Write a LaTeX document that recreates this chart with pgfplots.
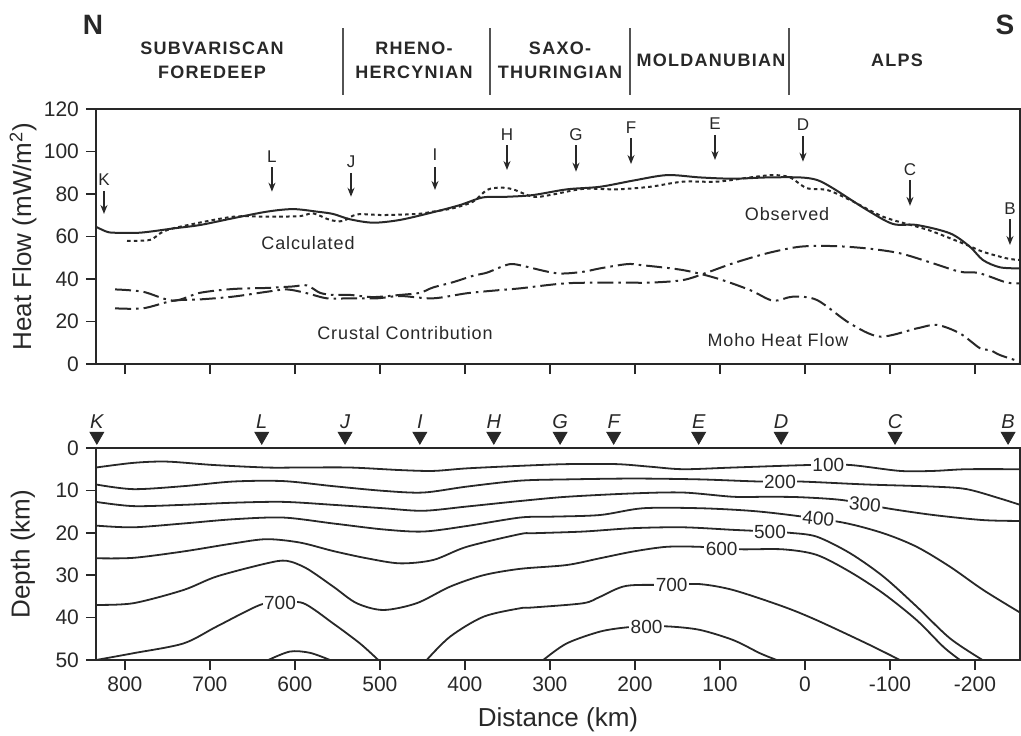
\documentclass[border=0pt]{standalone}
\usepackage{fontspec}
\setmainfont{Liberation Sans}
\usepackage{pgfplots}
\pgfplotsset{compat=1.18}
\usetikzlibrary{arrows.meta}
\definecolor{ink}{RGB}{40,40,40}
\pgfplotsset{
  myaxis/.style={
    scale only axis, width=462pt,
    x dir=reverse, xmin=-253, xmax=834,
    xtick={-200,-100,...,800},
    tick align=outside, major tick length=5pt,
    ytick pos=left, yticklabel pos=left,
    xtick pos=left, xticklabel pos=left,
    axis line style={ink, line width=1pt},
    tick style={ink, line width=0.8pt},
    tick label style={font=\fontsize{10.5}{12}\selectfont, text=ink},
    /pgf/number format/assume math mode=true,
    every axis y label/.style={at={(axis description cs:-0.079,0.5)}, rotate=90, anchor=center,
      font=\fontsize{13}{15}\selectfont, text=ink},
    clip=false,
  },
  curve/.style={ink, line width=1pt, smooth, tension=0.5, mark=none},
  iso/.style={ink, line width=0.9pt, smooth, tension=0.5, mark=none},
  dd/.style={dash pattern=on 8pt off 2.5pt on 1.3pt off 2.5pt},
}
\tikzset{
  lab/.style={font=\fontsize{8.5}{10}\selectfont, text=ink, inner sep=0pt},
  txt/.style={font=\fontsize{9}{11}\selectfont\addfontfeature{LetterSpace=5}, text=ink, inner sep=0pt},
  clab/.style={font=\fontsize{9.5}{11}\selectfont, text=ink, fill=white, inner sep=0.8pt},
  arr/.style={ink, line width=0.7pt, -{Stealth[length=4.5pt,width=3.5pt]}},
  reg/.style={font=\fontsize{9}{12}\selectfont\bfseries\addfontfeature{LetterSpace=7}, text=ink, align=center, inner sep=0pt},
  stn/.style={font=\fontsize{10}{12}\selectfont\itshape, text=ink, inner sep=0pt},
}
\begin{document}
\begin{tikzpicture}
\path[use as bounding box] (-48pt,-185.5pt) rectangle (462.5pt,182pt);

% ---------------- top panel: heat flow ----------------
\begin{axis}[myaxis, at={(0pt,0pt)}, anchor=south west, height=127.5pt,
  ymin=0, ymax=120, ytick={0,20,...,120},
  xticklabels={},
  ylabel={Heat Flow (mW/m\textsuperscript{2})}]

% Calculated (solid)
\addplot[curve] coordinates {
(834,64.6) (823,62.5) (814,61.8) (782,61.8) (743,63.8) (711.7,65.4) (672.8,68.6)
(632.8,71.7) (602.3,72.9) (574,71.7) (555,70.6) (535.2,68.1) (508,66.5) (476.4,67.8)
(437.6,71.4) (405.8,74.8) (378.7,78.4) (350.5,78.7) (320,79.5) (280,82.2) (241.1,83.4)
(202.3,86.3) (162.3,88.9) (123.5,87.8) (84.6,87.2) (44.6,87.8) (5.8,87.8) (-14.2,86.6)
(-33,82.7) (-73,72.5) (-103.6,65.9) (-132,65.4) (-170.7,61.5) (-194,55.2) (-209.5,48.9)
(-229.5,45.5) (-253,45)};

% Observed (dotted)
\addplot[curve, dash pattern=on 1.8pt off 1.6pt] coordinates {
(797.5,58) (770.5,58.4) (755,62.3) (731.7,64.9) (672.8,69.3) (632.8,69.3) (594,69.6)
(578.7,70.9) (558.7,67.8) (543.4,67.3) (527,70.4) (496.4,70.1) (456.4,70.6) (437.6,71.7)
(414,73.3) (390.5,76.4) (374,81.9) (358.7,83) (343.4,82.2) (320,78.7) (300,79.5)
(261.1,82.4) (221.1,82.2) (182.3,83.4) (143.5,85.8) (103.5,85.8) (64.6,87.8) (37.6,88.9)
(17.6,87.8) (-2.4,82.7) (-26,81.9) (-53,77.2) (-92,69.3) (-132,64.6) (-150.6,62.3)
(-190.6,56) (-209.5,52.8) (-237.7,49.7) (-253,48.9)};

% Moho heat flow (dash-dot)
\addplot[curve, dd] coordinates {
(811.6,35.1) (778.7,34) (743,29.8) (711.7,33.5) (672.8,35.3) (632.8,35.8) (602.3,36.5)
(585.8,37) (570.5,33.5) (555,32.5) (535.2,32.5) (508,31.5) (476.4,32.5) (452.9,33.5)
(437.6,36) (414,38.5) (390.5,41.5) (374,43) (358.7,45.5) (347,47) (335.2,46.5)
(292.2,42.7) (261.1,43.4) (241.1,45) (209.4,47) (194,46.6) (143.5,44.2) (103.5,40.3)
(64.6,34.8) (37.6,29.8) (14,31.7) (-14.2,30.1) (-53,19.1) (-88.3,12.9) (-132,16.8)
(-155.4,18.4) (-182.4,14.4) (-206,7.4) (-217.7,6.6) (-229.5,4.2) (-253,1.1)};

% Crustal contribution (dash-dot)
\addplot[curve, dd] coordinates {
(811.6,26.2) (778.7,26.2) (743,29.8) (711.7,30.4) (672.8,31.7) (632.8,34) (609.3,35.1)
(585.8,33.3) (562.3,30.9) (535.2,30.9) (503.4,30.9) (476.4,32) (437.6,30.9) (397.6,33.3)
(358.7,34.8) (335.2,35.6) (280,38) (221.1,38.3) (182.3,38.3) (143.5,39.5) (115.3,43)
(84.6,47.4) (44.6,52.1) (5.8,55.2) (-33,55.5) (-73,54.4) (-111.8,52.1) (-150.6,47.4)
(-182.4,43.4) (-202.4,43) (-217.7,41.1) (-237.7,38.3) (-253,38)};

% station arrows
\draw[arr] (axis cs:824.6,81.5) -- (axis cs:824.6,70.6);  \node[lab] at (axis cs:824.6,86.6) {K};
\draw[arr] (axis cs:627,92.7) -- (axis cs:627,81.1);      \node[lab] at (axis cs:627,97.6) {L};
\draw[arr] (axis cs:534,90) -- (axis cs:534,78.7);        \node[lab] at (axis cs:534,95.2) {J};
\draw[arr] (axis cs:435.2,92.5) -- (axis cs:435.2,81.9);  \node[lab] at (axis cs:435.2,98.4) {I};
\draw[arr] (axis cs:350.5,103) -- (axis cs:350.5,91.3);   \node[lab] at (axis cs:350.5,107.8) {H};
\draw[arr] (axis cs:269.3,103) -- (axis cs:269.3,90.5);   \node[lab] at (axis cs:269.3,107.8) {G};
\draw[arr] (axis cs:204.6,106.2) -- (axis cs:204.6,94.1); \node[lab] at (axis cs:204.6,111.4) {F};
\draw[arr] (axis cs:105.8,107.8) -- (axis cs:105.8,96);   \node[lab] at (axis cs:105.8,113.3) {E};
\draw[arr] (axis cs:2.3,107.4) -- (axis cs:2.3,95.2);     \node[lab] at (axis cs:2.3,112.5) {D};
\draw[arr] (axis cs:-123.6,86.6) -- (axis cs:-123.6,74.4);\node[lab] at (axis cs:-123.6,91.3) {C};
\draw[arr] (axis cs:-241.2,68.1) -- (axis cs:-241.2,56);  \node[lab] at (axis cs:-241.2,73.3) {B};

\node[txt] at (axis cs:584.6,57) {Calculated};
\node[txt] at (axis cs:21,70.6) {Observed};
\node[txt] at (axis cs:470.5,14.7) {Crustal Contribution};
\node[txt] at (axis cs:31.7,11.3) {Moho Heat Flow};
\end{axis}

% ---------------- bottom panel: isotherms ----------------
\begin{axis}[myaxis, at={(0pt,-148pt)}, anchor=south west, height=106pt,
  y dir=reverse, ymin=0, ymax=50, ytick={0,10,...,50},
  xlabel={Distance (km)}, ylabel={Depth (km)},
  every axis x label/.style={at={(axis description cs:0.5,-0.283)}, anchor=center,
    font=\fontsize{13}{15}\selectfont, text=ink}]

% stations
\addplot[only marks, mark=triangle*, mark size=4pt,
  mark options={rotate=180, fill=ink, draw=ink}] coordinates {
(833,-2.8) (639,-2.8) (541,-2.8) (453,-2.8) (366,-2.8) (288,-2.8) (225,-2.8)
(125,-2.8) (28,-2.8) (-106,-2.8) (-239,-2.8)};
\node[stn] at (axis cs:833,-6.3) {K};
\node[stn] at (axis cs:639,-6.3) {L};
\node[stn] at (axis cs:541,-6.3) {J};
\node[stn] at (axis cs:453,-6.3) {I};
\node[stn] at (axis cs:366,-6.3) {H};
\node[stn] at (axis cs:288,-6.3) {G};
\node[stn] at (axis cs:225,-6.3) {F};
\node[stn] at (axis cs:125,-6.3) {E};
\node[stn] at (axis cs:28,-6.3) {D};
\node[stn] at (axis cs:-106,-6.3) {C};
\node[stn] at (axis cs:-239,-6.3) {B};

% 100
\addplot[iso] coordinates {
(834,4.6) (790.1,3.5) (750.8,3.2) (696,4) (633.2,4.6) (594,4.6) (535.2,4.6) (476.4,5.2)
(437.2,5.4) (397.9,4.8) (335.2,4.2) (280.4,3.8) (221.5,3.8) (182.3,4.4) (143.1,5)
(84.3,4.6) (-6,4.0) (-53,4.0) (-111.8,5.4) (-151.1,5.4) (-190.3,5) (-253,5)};
% 200
\addplot[iso] coordinates {
(834,8.6) (790.1,9.7) (731.3,9) (672.5,7.9) (613.7,7.8) (554.8,9) (496,10.1) (449,10.5)
(397.9,9.1) (335.2,7.7) (280.4,7.4) (201.9,7.2) (123.5,7.4) (52.9,7.9) (5.8,7.9)
(-72.6,8.6) (-151.1,9.1) (-190.3,9.7) (-229.5,11.9) (-253,13.4)};
% 300
\addplot[iso] coordinates {
(834,12.7) (790.1,13.7) (731.3,13.4) (672.5,12.9) (613.7,12.7) (554.8,13.4) (496,14.2)
(449,14.8) (397.9,13.8) (335.2,12.5) (280.4,11.5) (201.9,10.7) (143.1,10.5) (84.3,11.5)
(45,11.5) (5.8,11.6) (-45.2,12.3) (-96.2,14.2) (-151.1,15.8) (-209.9,17) (-253,17.2)};
% 400
\addplot[iso] coordinates {
(834,18.3) (790.1,18.7) (731.3,17.8) (672.5,16.8) (613.7,16.4) (554.8,17.8) (496,19.2)
(449,19.7) (397.9,18.4) (335.2,16.4) (300,16.2) (241.1,15.8) (190.3,14.2) (123.5,14.2)
(64.6,14.8) (17.6,15.8) (-45.2,17.6) (-92.2,20.1) (-131.5,23.3) (-170.7,28)
(-209.9,33.5) (-253,38.8)};
% 500
\addplot[iso] coordinates {
(834,26) (790.1,25.9) (731.3,24.4) (672.5,22.5) (633.2,21.5) (594,22.3) (554.8,24.3)
(515.5,26) (476.4,27.2) (437.2,26.4) (397.9,23.3) (335.2,20.3) (319.6,20.1) (260.8,19.7)
(201.9,18.9) (143.1,18.7) (84.3,19.3) (41.1,19.7) (17.6,20) (-13.8,20.9) (-53,24.8)
(-92.2,30.3) (-131.5,37.4) (-170.7,44.9) (-209,50)};
% 600
\addplot[iso] coordinates {
(834,37) (790.1,36.6) (731.3,33.5) (692,30.3) (633.2,27.2) (609.7,26.6) (586.2,28.4)
(554.8,32.7) (527.3,36.6) (496,38.2) (456.7,36.6) (417.5,32.7) (378.3,30) (335.2,28.5)
(280.4,27.6) (241.1,26) (201.9,24.4) (162.7,23.3) (123.5,23.3) (98,23.7) (72.5,23.9)
(25.4,23.9) (-13.8,25.2) (-53,29.2) (-92.2,34.3) (-131.5,40.6) (-162.9,46.9) (-182.5,50)};
% 700 (north)
\addplot[iso] coordinates {
(834,50) (790.1,48.4) (731.3,46.1) (692,42.1) (641,37) (617.5,36.6) (590.1,36.6)
(554.8,41.4) (523.4,46.1) (501.9,50)};
% 700 (south)
\addplot[iso] coordinates {
(445,50) (417.5,44.5) (378.3,39.8) (335.2,37.8) (319.6,37.6) (260.8,36.6) (241.1,35.1)
(209.8,32.5) (156.8,32.3) (123.5,32.1) (84.3,33.5) (25.4,37.4) (-13.8,40.6)
(-72.6,46.1) (-111.8,50)};
% 800
\addplot[iso] coordinates {
(307.8,50) (280.4,46.1) (241.1,43.3) (209.8,42.3) (186.3,42.1) (158.7,42.1) (123.5,42.9)
(84.3,45.3) (52.9,48.4) (33.2,50)};
\addplot[iso] coordinates {(631.3,50) (605.8,48) (582.3,48.3) (558.7,50)};

\node[clab] at (axis cs:-27.5,4.0) {100};
\node[clab] at (axis cs:29.3,7.9) {200};
\node[clab, rotate=-5] at (axis cs:-70.7,13.4) {300};
\node[clab, rotate=-6] at (axis cs:-15.8,16.6) {400};
\node[clab] at (axis cs:41.1,19.7) {500};
\node[clab] at (axis cs:98,23.7) {600};
\node[clab] at (axis cs:617.5,36.6) {700};
\node[clab] at (axis cs:156.8,32.3) {700};
\node[clab] at (axis cs:186.3,42.1) {800};
\end{axis}

% ---------------- header ----------------
\node[font=\fontsize{14}{16}\selectfont\bfseries, text=ink] at (-1.5pt,169.5pt) {N};
\node[font=\fontsize{14}{16}\selectfont\bfseries, text=ink] at (454.5pt,169.5pt) {S};
\node[reg] at (58pt,152pt) {SUBVARISCAN\\FOREDEEP};
\node[reg] at (159pt,152pt) {RHENO-\\HERCYNIAN};
\node[reg] at (232pt,152pt) {SAXO-\\THURINGIAN};
\node[reg] at (307.5pt,152pt) {MOLDANUBIAN};
\node[reg] at (400.5pt,152pt) {ALPS};
\draw[ink!80, line width=0.6pt] (123.5pt,168pt) -- (123.5pt,134.5pt);
\draw[ink!80, line width=0.6pt] (197pt,168pt) -- (197pt,134.5pt);
\draw[ink!80, line width=0.6pt] (267pt,168pt) -- (267pt,134.5pt);
\draw[ink!80, line width=0.6pt] (346.5pt,168pt) -- (346.5pt,134.5pt);
\end{tikzpicture}
\end{document}
